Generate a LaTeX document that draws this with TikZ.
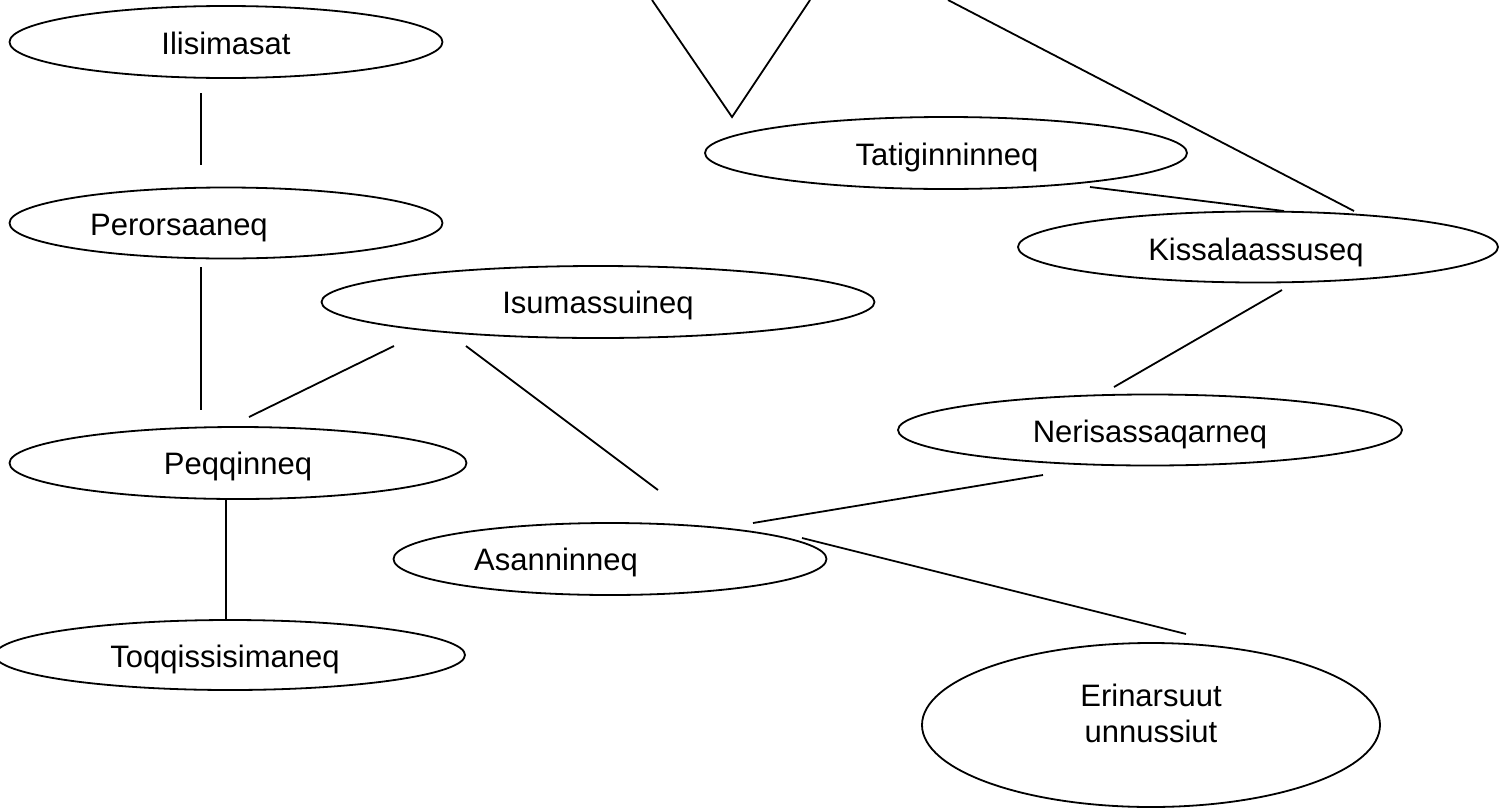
\documentclass[tikz,border=0pt]{standalone}
\usepackage{fontspec}
\setmainfont{Liberation Sans}
\usetikzlibrary{shapes.geometric}
\tikzset{
  oval/.style={ellipse, draw=black, line width=0.9pt, inner sep=0pt},
  lbl/.style={font=\fontsize{15.5}{18}\selectfont, inner sep=0pt, align=center},
  conn/.style={draw=black, line width=0.9pt}
}
\begin{document}
\begin{tikzpicture}[x=0.5pt,y=-0.5pt]
\useasboundingbox (0,0) rectangle (1510,809);
% ellipses
\node[oval, minimum width=216.5pt, minimum height=36pt] (ili) at (226,42) {};
\node[oval, minimum width=216.5pt, minimum height=35.5pt] (per) at (226,223) {};
\node[oval, minimum width=276.5pt, minimum height=36pt] (isu) at (598,302) {};
\node[oval, minimum width=228.5pt, minimum height=36pt] (peq) at (238,463) {};
\node[oval, minimum width=235pt, minimum height=35pt] (toq) at (230,655) {};
\node[oval, minimum width=216.5pt, minimum height=36pt] (asa) at (610,559) {};
\node[oval, minimum width=241pt, minimum height=36pt] (tat) at (946,153) {};
\node[oval, minimum width=240pt, minimum height=35.5pt] (kis) at (1258,247) {};
\node[oval, minimum width=252pt, minimum height=35.5pt] (ner) at (1150,430) {};
\node[oval, minimum width=229pt, minimum height=82pt] (eri) at (1151,725) {};
% labels (placed by baseline)
\node[lbl, anchor=base] (tili) at (226,54) {Ilisimasat};
\node[lbl, anchor=base] (tper) at (179,235) {Perorsaaneq};
\node[lbl, anchor=base] (tisu) at (598,313) {Isumassuineq};
\node[lbl, anchor=base] (tpeq) at (238,474) {Peqqinneq};
\node[lbl, anchor=base] (ttoq) at (225,667) {Toqqissisimaneq};
\node[lbl, anchor=base] (tasa) at (556,570) {Asanninneq};
\node[lbl, anchor=base] (ttat) at (947,165) {Tatiginninneq};
\node[lbl, anchor=base] (tkis) at (1256,260) {Kissalaassuseq};
\node[lbl, anchor=base] (tner) at (1150,442) {Nerisassaqarneq};
\node[lbl] (teri) at (1151,713) {Erinarsuut\\unnussiut};
% connector end points
\coordinate (a1) at (201,93);   \coordinate (a2) at (201,165);
\coordinate (b1) at (201,267);  \coordinate (b2) at (201,410);
\coordinate (c1) at (394,346);  \coordinate (c2) at (249,417);
\coordinate (d1) at (466,346);  \coordinate (d2) at (658,490);
\coordinate (e1) at (226,499);  \coordinate (e2) at (226,619);
\coordinate (f1) at (753,523);  \coordinate (f2) at (1043,475);
\coordinate (g1) at (802,538);  \coordinate (g2) at (1186,634);
\coordinate (h1) at (1114,387); \coordinate (h2) at (1282,290);
\coordinate (i1) at (1090,187); \coordinate (i2) at (1284,211);
\coordinate (j1) at (948,0);    \coordinate (j2) at (1354,211);
\coordinate (v1) at (652,0);    \coordinate (v2) at (732,117); \coordinate (v3) at (810,0);
% connectors
\draw[conn] (a1) -- (a2);
\draw[conn] (b1) -- (b2);
\draw[conn] (c1) -- (c2);
\draw[conn] (d1) -- (d2);
\draw[conn] (e1) -- (e2);
\draw[conn] (f1) -- (f2);
\draw[conn] (g1) -- (g2);
\draw[conn] (h1) -- (h2);
\draw[conn] (i1) -- (i2);
\draw[conn] (j1) -- (j2);
\draw[conn] (v1) -- (v2) -- (v3);
\end{tikzpicture}
\end{document}
